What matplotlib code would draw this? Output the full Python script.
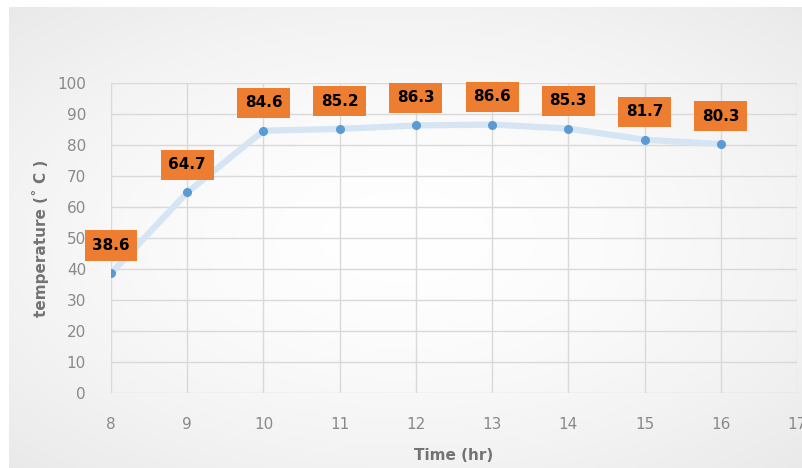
import numpy as np
from matplotlib import pyplot as plt

# temperature readings over the day
hours = [8, 9, 10, 11, 12, 13, 14, 15, 16]
temps = [38.6, 64.7, 84.6, 85.2, 86.3, 86.6, 85.3, 81.7, 80.3]
x_ticks = list(range(8, 18))
y_ticks = list(range(0, 101, 10))

W, H = 802, 468
fig = plt.figure(figsize=(W / 100, H / 100), dpi=100)

# soft radial backdrop behind the chart area
bg = fig.add_axes([9 / W, 0, 1 - 9 / W, 1 - 7 / H], zorder=-5)
yy, xx = np.mgrid[-1:1:200j, -1:1:300j]
r = np.sqrt((xx * 0.85) ** 2 + (yy * 0.9) ** 2)
shade = 1 - 0.06 * np.clip(r, 0, 1.3) ** 1.6
bg.imshow(np.dstack([shade] * 3), aspect='auto', extent=[0, 1, 0, 1])
bg.set_axis_off()

ax = fig.add_axes([111 / W, 1 - 393 / H, (797 - 111) / W, (393 - 83) / H])
ax.patch.set_alpha(0)

ax.plot(hours, temps, color='#d5e5f4', lw=4.5, solid_capstyle='round', zorder=2)
ax.plot(hours, temps, 'o', color='#5b9bd5', ms=5.5, zorder=3)

for h, t in zip(hours, temps):
    ax.annotate(f'{t}', (h, t), xytext=(0, 20), textcoords='offset points',
                ha='center', va='center', fontsize=11, fontweight='bold',
                color='black', zorder=5,
                bbox=dict(boxstyle='square,pad=0.5', fc='#ed7d31', ec='none'))

ax.set_xlim(8, 17)
ax.set_ylim(0, 100)
ax.set_xticks(x_ticks)
ax.set_yticks(y_ticks)
ax.grid(True, color='#d9d9d9', lw=1)
ax.set_axisbelow(True)
for s in ax.spines.values():
    s.set_visible(False)
ax.tick_params(length=0, colors='#898989', labelsize=11)
ax.tick_params(axis='y', pad=18)
ax.tick_params(axis='x', pad=17)

ax.set_xlabel('Time (hr)', fontsize=11, fontweight='bold', color='#737373',
              labelpad=12)
ax.set_ylabel('temperature (˚ C )', fontsize=11, fontweight='bold',
              color='#737373', labelpad=6)

plt.savefig('out.png', dpi=100, facecolor='white')
